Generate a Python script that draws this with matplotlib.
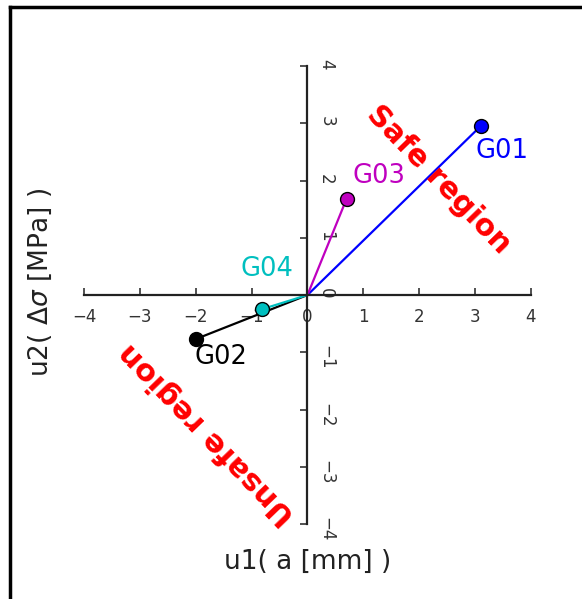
import matplotlib
matplotlib.use("Agg")
import matplotlib.pyplot as plt
from matplotlib.lines import Line2D

# Data
names = ["G01", "G02", "G03", "G04"]
u1 = [3.1, -2.0, 0.7, -0.82]
u2 = [2.95, -0.77, 1.68, -0.25]
colors = ["b", "k", "m", "c"]
label_pos = [(3.48, 2.52), (-1.55, -1.08), (1.28, 2.08), (-0.72, 0.45)]
ticks = [-4, -3, -2, -1, 0, 1, 2, 3, 4]

fig = plt.figure(figsize=(5.82, 5.99), dpi=100)
ax = fig.add_axes([0.1443, 0.1252, 0.768, 0.7646])

for x, y, c in zip(u1, u2, colors):
    ax.plot([0, x], [0, y], color=c, lw=1.6, zorder=2)
for x, y, c in zip(u1, u2, colors):
    ax.plot([x], [y], 'o', color=c, mec='k', ms=10, zorder=3)
for n, (lx, ly), c in zip(names, label_pos, colors):
    ax.text(lx, ly, n, color=c, fontsize=18.5, ha='center', va='center')

ax.text(2.35, 2.01, "Safe region", color='r', fontsize=21.5, fontweight='bold',
        rotation=-46, ha='center', va='center', rotation_mode='anchor')
ax.text(-1.80, -2.43, "Unsafe region", color='r', fontsize=22, fontweight='bold',
        rotation=134, ha='center', va='center', rotation_mode='anchor')

ax.set_xlim(-4, 4)
ax.set_ylim(-4, 4)
ax.set_xticks(ticks)
ax.set_yticks(ticks)

for s in ['left', 'bottom', 'right']:
    ax.spines[s].set_position(('data', 0))
ax.spines['top'].set_visible(False)
ax.spines['right'].set_visible(False)
ax.spines['left'].set_linewidth(1.6)
ax.spines['bottom'].set_linewidth(1.6)
ax.spines['left'].set_color('#222222')
ax.spines['bottom'].set_color('#222222')

ax.tick_params(axis='x', direction='in', length=5, width=1.2, pad=9,
               labelsize=12, colors='#333333', top=False)
ax.tick_params(axis='y', direction='out', length=5, width=1.2, pad=2,
               labelsize=12, colors='#333333', left=True, right=False,
               labelleft=False, labelright=True, labelrotation=-90)

ax.set_xlabel("u1( a [mm] )", fontsize=19, color='#222222')
ax.xaxis.set_label_coords(0.5, -0.083)
ax.xaxis.label.set_verticalalignment('center')
ax.set_ylabel(r"u2( $\Delta\sigma$ [MPa] )", fontsize=19, color='#222222')
ax.yaxis.set_label_coords(-0.098, 0.528)
ax.yaxis.label.set_verticalalignment('center')

# figure frame (top and left edges visible)
fx0 = 9.5 / 582
fy0 = 1 - 6.5 / 599
fig.add_artist(Line2D([fx0, fx0], [0, fy0], transform=fig.transFigure, color='k', lw=2.5))
fig.add_artist(Line2D([fx0, 1], [fy0, fy0], transform=fig.transFigure, color='k', lw=2.5))

fig.savefig("out.png", dpi=100)
